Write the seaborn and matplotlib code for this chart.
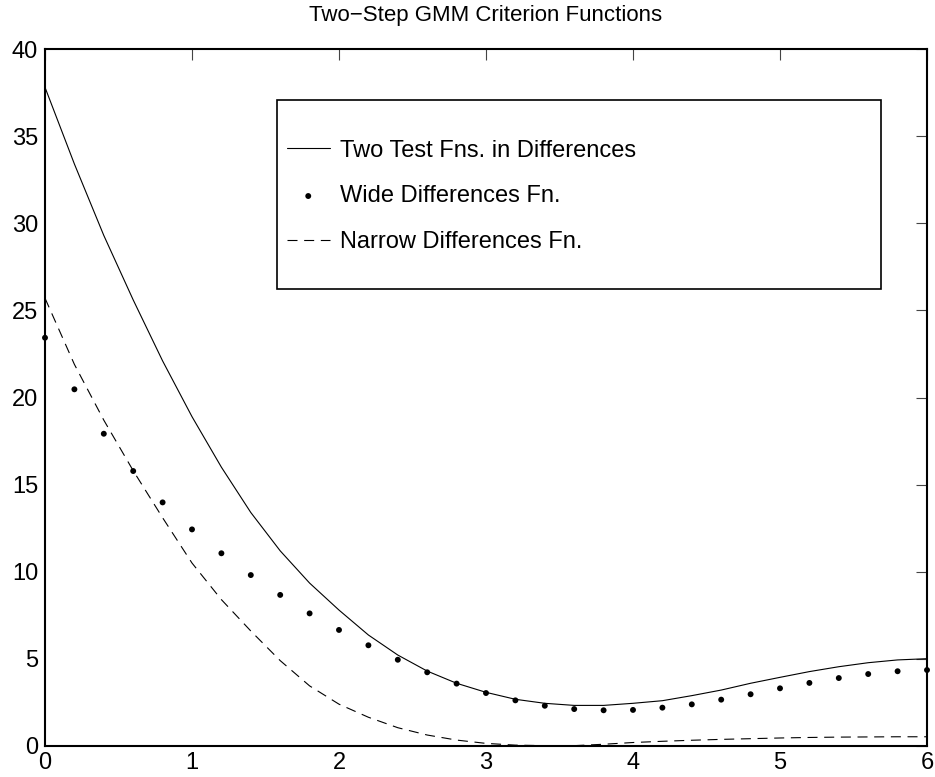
import numpy as np
import pandas as pd
import seaborn as sns
import matplotlib
matplotlib.use("Agg")
import matplotlib.pyplot as plt
from matplotlib.patches import Rectangle

# parameter grid (theta) shared by the three criterion functions
theta = [0.0, 0.2, 0.4, 0.6, 0.8, 1.0, 1.2, 1.4, 1.6, 1.8, 2.0,
         2.2, 2.4, 2.6, 2.8, 3.0, 3.2, 3.4, 3.6, 3.8, 4.0,
         4.2, 4.4, 4.6, 4.8, 5.0, 5.2, 5.4, 5.6, 5.8, 6.0]
#two test functions in differences (solid)
two_test = [37.8, 33.4, 29.3, 25.6, 22.1, 18.9, 16.0, 13.4, 11.2, 9.35, 7.8,
            6.37, 5.22, 4.30, 3.60, 3.08, 2.68, 2.45, 2.33, 2.33, 2.45,
            2.60, 2.89, 3.21, 3.60, 3.94, 4.27, 4.55, 4.78, 4.94, 5.01]
#wide differences (dots)
wide = [23.43, 20.47, 17.92, 15.78, 13.98, 12.43, 11.06, 9.81, 8.67, 7.61, 6.66,
        5.78, 4.95, 4.23, 3.58, 3.04, 2.62, 2.31, 2.12, 2.05, 2.07,
        2.20, 2.39, 2.66, 2.97, 3.31, 3.62, 3.90, 4.13, 4.29, 4.36]
#narrow differences (dashed)
narrow = [25.7, 21.9, 18.7, 15.8, 13.1, 10.5, 8.4, 6.6, 4.9, 3.45, 2.4,
          1.65, 1.05, 0.63, 0.34, 0.15, 0.05, 0.02, 0.02, 0.10, 0.20,
          0.27, 0.33, 0.38, 0.42, 0.46, 0.49, 0.51, 0.52, 0.53, 0.53]

labels = ['Two Test Fns. in Differences', 'Wide Differences Fn.', 'Narrow Differences Fn.']
title = 'Two\u2212Step GMM Criterion Functions'

df = pd.DataFrame({'theta': theta, 'two': two_test, 'wide': wide, 'narrow': narrow})

sns.set_theme(style='white')
plt.rcParams['font.family'] = ['Liberation Sans', 'DejaVu Sans']
plt.rcParams['axes.unicode_minus'] = True
plt.rcParams['text.color'] = 'black'

fig = plt.figure(figsize=(9.35, 7.77), dpi=100)
ax = fig.add_axes([45/935, 31/777, 882/935, 697/777])

sns.lineplot(data=df, x='theta', y='two', ax=ax, color='black', lw=0.8, label=labels[0])
sns.scatterplot(data=df, x='theta', y='wide', ax=ax, color='black', s=18,
                edgecolor='none', label=labels[1], clip_on=False, zorder=3)
sns.lineplot(data=df, x='theta', y='narrow', ax=ax, color='black', lw=0.8,
             linestyle=(0, (9, 6)), label=labels[2])

ax.set_xlim(0, 6)
ax.set_ylim(0, 40)
ax.set_xticks(range(0, 7))
ax.set_yticks(range(0, 41, 5))
ax.set_xlabel('')
ax.set_ylabel('')
ax.set_title(title, fontsize=16, pad=20, color='black')

for sp in ax.spines.values():
    sp.set_visible(True)
    sp.set_color('black')
    sp.set_linewidth(1.5)
ax.tick_params(direction='in', length=8, width=0.8, color='#444444',
               top=True, right=True, labelsize=17, labelcolor='black')
ax.tick_params(axis='x', pad=4)
ax.tick_params(axis='y', pad=5)

# legend: frame drawn as a box, entries placed inside
ax.add_patch(Rectangle((232/882, 457/697), 604/882, 189/697, transform=ax.transAxes,
                       fill=False, edgecolor='black', lw=1.2, zorder=5))
leg = ax.legend(loc='upper left', bbox_to_anchor=(242/882, 0.870), frameon=False,
                fontsize=17, handlelength=1.8, handletextpad=0.45, labelspacing=1.0,
                borderpad=0, borderaxespad=0, scatterpoints=1, markerscale=1)
for t in leg.get_texts():
    t.set_color('black')

fig.savefig('out.png', dpi=100)
